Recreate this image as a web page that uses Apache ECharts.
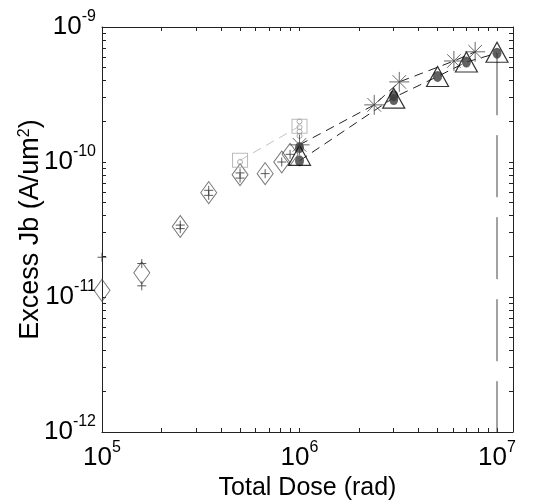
<!DOCTYPE html>
<html><head><meta charset="utf-8">
<script src="https://cdn.jsdelivr.net/npm/echarts@6/dist/echarts.min.js"></script>
<style>html,body{margin:0;padding:0;background:#fff}#c{width:536px;height:504px}</style>
</head><body><div id="c"></div>
<script>
// ---- axis ranges & tick labels ----
const xRange = [1e5, 1.205e7];
const yRange = [1e-12, 1e-9];
const xMajorTicks = [1e5, 1e6, 1e7];
const yMajorTicks = [1e-12, 1e-11, 1e-10, 1e-9];
const minorMultipliers = [1, 2, 3, 4, 5, 6, 7, 8, 9];

// ---- data ----
const diamondDose = [1e5, 1.59e5, 2.49e5, 3.47e5, 5.0e5, 6.7e5, 8.13e5, 8.96e5];
const diamondJb   = [1.12e-11, 1.51e-11, 3.33e-11, 5.93e-11, 8.05e-11, 8.2e-11, 1.0e-10, 1.14e-10];

const plusDose = [1e5, 1.59e5, 1.59e5, 2.49e5, 2.49e5, 3.47e5, 3.47e5, 5e5, 5e5, 6.7e5, 8.13e5, 8.96e5];
const plusJb   = [1.97e-11, 1.77e-11, 1.21e-11, 3.41e-11, 3.21e-11, 6.17e-11, 5.66e-11, 8.3e-11, 7.6e-11, 8.2e-11, 1.0e-10, 1.14e-10];

const squareDose = [5e5, 1e6];
const squareJb   = [1.03e-10, 1.84e-10];

const openCircleDose = [5e5, 1e6, 1e6, 1e6, 1e6, 1e6];
const openCircleJb   = [1.0e-10, 2.0e-10, 1.81e-10, 1.68e-10, 1.56e-10, 1.3e-10];

const starDose = [1e6, 2.39e6, 3.2e6, 6.05e6, 7.75e6];
const starJb   = [1.34e-10, 2.65e-10, 3.92e-10, 5.6e-10, 6.55e-10];

const triDose = [1e6, 3e6, 5e6, 7e6, 1e7];
const triJb   = [1.12e-10, 2.97e-10, 4.3e-10, 5.5e-10, 6.5e-10];

const dotDose = [1e6, 1e6, 3e6, 3e6, 5e6, 7e6, 1e7];
const dotJb   = [1.28e-10, 1.02e-10, 3.1e-10, 2.9e-10, 4.3e-10, 5.5e-10, 6.4e-10];

const lowerLineDose = [1e6, 3e6, 5e6, 7e6, 1e7];
const lowerLineJb   = [1.02e-10, 3.0e-10, 4.3e-10, 5.5e-10, 6.4e-10];

const dropDose = [1e7, 1e7];
const dropJb   = [6.4e-10, 1e-12];

// ---- helpers ----
const zip = (xs, ys) => xs.map((x, i) => [x, ys[i]]);
function minorTicks(majors, range) {
  const out = [];
  majors.forEach(m => minorMultipliers.forEach(k => {
    const v = Number((k * m).toPrecision(3));
    if (v >= range[0] * 0.999 && v <= range[1] * 1.001) out.push(v);
  }));
  return out;
}
const xTickVals = minorTicks(xMajorTicks, xRange);
const yTickVals = minorTicks(yMajorTicks, yRange);

const FONT = 'Liberation Sans';
const pow10 = v => '{b|10}{s|' + Math.round(Math.log10(v)) + '}';
const labelRich = {
  b: {fontSize: 26, fontFamily: FONT, color: '#000', lineHeight: 26, verticalAlign: 'bottom'},
  s: {fontSize: 16, fontFamily: FONT, color: '#000', lineHeight: 16, verticalAlign: 'bottom', padding: [0, 0, 15, 0]}
};
const axisLine = {show: true, onZero: false, lineStyle: {color: '#222', width: 1}};
const tick = vals => ({show: true, inside: true, length: 4, lineStyle: {color: '#222', width: 1}, customValues: vals});

const plusPath = 'path://M5 0L5 10M0 5L10 5';
const starPath = 'path://M5 0L5 10M0 5L10 5M1.6 1.6L8.4 8.4M8.4 1.6L1.6 8.4';

const chart = echarts.init(document.getElementById('c'), null, {renderer: 'canvas'});
chart.setOption({
  animation: false,
  backgroundColor: '#fff',
  grid: {left: 102, right: 23, top: 27, bottom: 72, containLabel: false, outerBoundsMode: 'none'},
  xAxis: [
    {type: 'log', logBase: 10, min: xRange[0], max: xRange[1], position: 'bottom',
     axisLine, axisTick: tick(xTickVals), splitLine: {show: false}, minorTick: {show: false},
     axisLabel: {customValues: xMajorTicks, formatter: pow10, rich: labelRich, margin: 13},
     name: 'Total Dose (rad)', nameLocation: 'middle', nameGap: 43,
     nameTextStyle: {fontSize: 25, fontFamily: FONT, color: '#000', verticalAlign: 'top'}},
    {type: 'log', logBase: 10, min: xRange[0], max: xRange[1], position: 'top',
     axisLine, axisTick: tick(xTickVals), splitLine: {show: false}, axisLabel: {show: false}}
  ],
  yAxis: [
    {type: 'log', logBase: 10, min: yRange[0], max: yRange[1], position: 'left',
     axisLine, axisTick: tick(yTickVals), splitLine: {show: false}, minorTick: {show: false},
     axisLabel: {customValues: yMajorTicks, formatter: pow10, rich: labelRich, margin: 6},
     name: 'Excess Jb (A/um{s|2})', nameLocation: 'middle', nameGap: 58, nameRotate: 90,
     nameMoveOverlap: false,
     nameTextStyle: {fontSize: 27, fontFamily: FONT, color: '#000',
       rich: {s: {fontSize: 16, fontFamily: FONT, color: '#000', verticalAlign: 'top', lineHeight: 16}}}},
    {type: 'log', logBase: 10, min: yRange[0], max: yRange[1], position: 'right',
     axisLine, axisTick: tick(yTickVals), splitLine: {show: false}, axisLabel: {show: false}}
  ],
  series: [
    {type: 'line', data: zip(squareDose, squareJb), symbol: 'none', z: 1,
     lineStyle: {color: '#c4c4c4', width: 1, type: [9, 6]}},
    {type: 'line', data: zip(starDose, starJb), symbol: 'none', z: 1,
     lineStyle: {color: '#222', width: 1, type: [9, 6]}},
    {type: 'line', data: zip(lowerLineDose, lowerLineJb), symbol: 'none', z: 1,
     lineStyle: {color: '#222', width: 1, type: [9, 6]}},
    {type: 'line', data: zip(dropDose, dropJb), symbol: 'none', z: 1,
     lineStyle: {color: '#444', width: 1, type: [62, 20]}},
    {type: 'scatter', data: zip(diamondDose, diamondJb), symbol: 'diamond', symbolSize: [16, 22], z: 2,
     itemStyle: {color: 'none', borderColor: '#555', borderWidth: 1}},
    {type: 'scatter', data: zip(plusDose, plusJb), symbol: plusPath, symbolSize: [9, 9], z: 3,
     itemStyle: {color: 'none', borderColor: '#333', borderWidth: 1}},
    {type: 'scatter', data: zip(squareDose, squareJb), symbol: 'rect', symbolSize: [15, 14], z: 2,
     itemStyle: {color: 'none', borderColor: '#aaa', borderWidth: 1}},
    {type: 'scatter', data: zip(openCircleDose, openCircleJb), symbol: 'circle', symbolSize: 5, z: 2,
     itemStyle: {color: 'none', borderColor: '#999', borderWidth: 1}},
    {type: 'scatter', data: zip(dotDose, dotJb), symbol: 'circle', symbolSize: [9, 11], z: 3,
     itemStyle: {color: '#3a3a3a'}},
    {type: 'scatter', data: zip(triDose, triJb), symbol: 'triangle', symbolSize: [22, 20], z: 4,
     itemStyle: {color: 'none', borderColor: '#000', borderWidth: 1.2}},
    {type: 'scatter', data: zip(starDose, starJb), symbol: starPath, symbolSize: [20, 20], z: 4,
     itemStyle: {color: 'none', borderColor: '#444', borderWidth: 1}}
  ]
});
</script>
</body></html>
